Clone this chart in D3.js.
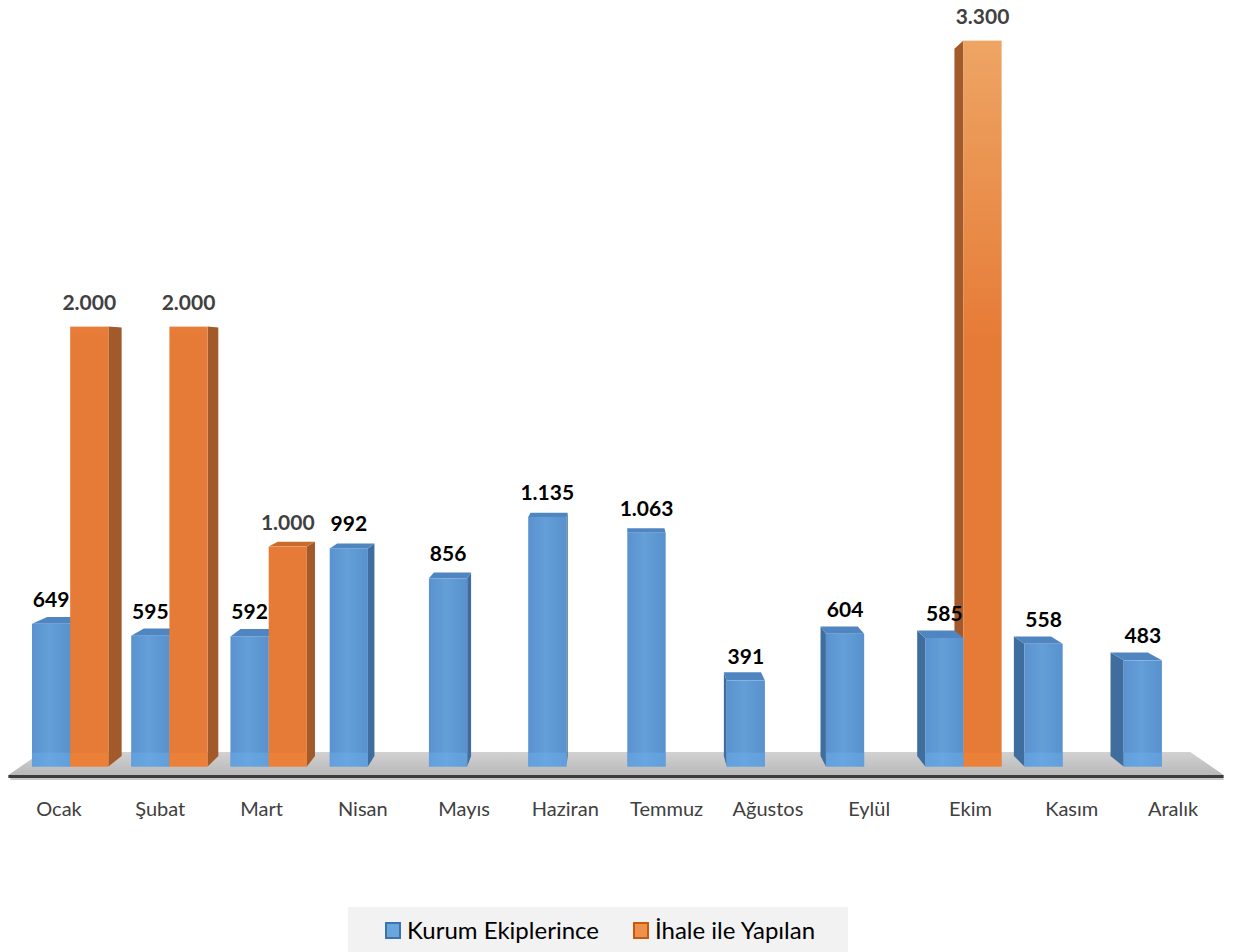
<!DOCTYPE html>
<html>
<head>
<meta charset="utf-8">
<script src="https://cdnjs.cloudflare.com/ajax/libs/d3/7.8.5/d3.min.js"></script>
<style>
  body { margin: 0; background: #fff; }
  #chart { width: 1236px; height: 952px; }
</style>
</head>
<body>
<div id="chart"></div>
<script>

// data
var months = ['Ocak', 'Şubat', 'Mart', 'Nisan', 'Mayıs', 'Haziran', 'Temmuz', 'Ağustos', 'Eylül', 'Ekim', 'Kasım', 'Aralık'];
var kurumValues = [649, 595, 592, 992, 856, 1135, 1063, 391, 604, 585, 558, 483];
var ihaleValues = [2000, 2000, 1000, null, null, null, null, null, null, 3300, null, null];
var seriesNames = ['Kurum Ekiplerince', 'İhale ile Yapılan'];
var seriesKeys = ['kurum', 'ihale'];


function renderBar3D(params) {
    // exposed variables
    var attrs = {
        svgWidth: 1236,
        svgHeight: 952,
        firstCenter: 59,
        lastCenter: 1173,
        floorY: 775,
        vanishX: 618,
        vanishY: 356,
        barDepth: 0.026,
        floorDepth: 0.055,
        barInset: 0.02,
        halfGroup: 39,
        maxValue: 3300,
        pxPerUnit: 0.22,
        fontFamily: 'Lato, "Open Sans", sans-serif'
    };

    Object.keys(attrs).forEach(function (key) {
        if (params && params[key]) {
            attrs[key] = params[key];
        }
    });

    var main = function (selection) {
        selection.each(function () {

            var trFormat = d3.formatLocale({ decimal: ',', thousands: '.', grouping: [3], currency: ['', ' ₺'] }).format(',');

            var svg = d3.select(this)
                .append('svg')
                .attr('width', attrs.svgWidth)
                .attr('height', attrs.svgHeight)
                .style('font-family', attrs.fontFamily);

            var defs = svg.append('defs');

            // front gradients
            var gBlue = defs.append('linearGradient').attr('id', 'blueFront')
                .attr('x1', 0).attr('x2', 1).attr('y1', 0).attr('y2', 0);
            gBlue.append('stop').attr('offset', '0%').attr('stop-color', '#5a92cf');
            gBlue.append('stop').attr('offset', '45%').attr('stop-color', '#649fd8');
            gBlue.append('stop').attr('offset', '100%').attr('stop-color', '#5891cd');

            var gOrange = defs.append('linearGradient').attr('id', 'orangeFront')
                .attr('gradientUnits', 'userSpaceOnUse')
                .attr('x1', 0).attr('x2', 0).attr('y1', 40).attr('y2', 340);
            gOrange.append('stop').attr('offset', '0%').attr('stop-color', '#eea564');
            gOrange.append('stop').attr('offset', '100%').attr('stop-color', '#e67b37');

            var gFloor = defs.append('linearGradient').attr('id', 'floorFill')
                .attr('x1', 0).attr('x2', 0).attr('y1', 0).attr('y2', 1);
            gFloor.append('stop').attr('offset', '0%').attr('stop-color', '#d2d2d2');
            gFloor.append('stop').attr('offset', '100%').attr('stop-color', '#b8b8b8');

            var colors = {
                kurum: { front: 'url(#blueFront)', side: '#3f6e9e', top: '#4f86c2', base: '#6cb0ea', label: '#000000' },
                ihale: { front: 'url(#orangeFront)', side: '#a35a2a', top: '#c96b2c', base: '#f28a3c', label: '#404040' }
            };

            // scales
            var x = d3.scalePoint()
                .domain(months)
                .range([attrs.firstCenter, attrs.lastCenter]);

            var xSeries = d3.scaleBand()
                .domain(seriesKeys)
                .range([-attrs.halfGroup, attrs.halfGroup]);

            var step = x.step();
            var vp = { x: attrs.vanishX, y: attrs.vanishY };

            // move a point towards the vanishing point
            function toward(p, s) {
                return [p[0] + (vp.x - p[0]) * s, p[1] + (vp.y - p[1]) * s];
            }

            var base = toward([0, attrs.floorY], attrs.barInset)[1];

            var y = d3.scaleLinear()
                .domain([0, attrs.maxValue])
                .range([base, base - attrs.maxValue * attrs.pxPerUnit]);

            // floor
            var fl = x.range()[0] - step / 2;
            var fr = x.range()[1] + step / 2;
            var floorPts = [[fl, attrs.floorY], [fr, attrs.floorY],
                toward([fr, attrs.floorY], attrs.floorDepth), toward([fl, attrs.floorY], attrs.floorDepth)];

            svg.append('polygon')
                .attr('points', floorPts.map(function (p) { return p.join(','); }).join(' '))
                .attr('fill', 'url(#floorFill)');

            svg.append('rect')
                .attr('x', fl).attr('y', attrs.floorY)
                .attr('width', fr - fl).attr('height', 3)
                .attr('fill', '#3c3c3c');
            svg.append('rect')
                .attr('x', fl + 2).attr('y', attrs.floorY + 3)
                .attr('width', fr - fl - 2).attr('height', 2)
                .attr('fill', '#c8c8c8');

            // bar list
            var bars = [];
            months.forEach(function (m, i) {
                [kurumValues[i], ihaleValues[i]].forEach(function (v, k) {
                    if (v == null) return;
                    var key = seriesKeys[k];
                    var wx0 = x(m) + xSeries(key);
                    var wx1 = wx0 + xSeries.bandwidth();
                    var sx0 = toward([wx0, 0], attrs.barInset)[0];
                    var sx1 = toward([wx1, 0], attrs.barInset)[0];
                    bars.push({ month: m, key: key, value: v, x0: sx0, x1: sx1, top: y(v), bottom: y(0) });
                });
            });

            // far bars first
            bars.sort(function (a, b) {
                return Math.abs((b.x0 + b.x1) / 2 - vp.x) - Math.abs((a.x0 + a.x1) / 2 - vp.x);
            });

            function poly(g, pts, fill) {
                g.append('polygon')
                    .attr('points', pts.map(function (p) { return p.join(','); }).join(' '))
                    .attr('fill', fill);
            }

            var barG = svg.append('g').attr('class', 'bars');

            bars.forEach(function (d) {
                var c = colors[d.key];
                var g = barG.append('g');
                var t = attrs.barDepth;

                // side face
                if (d.x1 < vp.x) {
                    var a = [d.x1, d.top], b = [d.x1, d.bottom];
                    poly(g, [a, toward(a, t), toward(b, t), b], c.side);
                } else if (d.x0 > vp.x) {
                    var a2 = [d.x0, d.top], b2 = [d.x0, d.bottom];
                    poly(g, [a2, toward(a2, t), toward(b2, t), b2], c.side);
                }

                // top face
                if (d.top > vp.y) {
                    var tl = [d.x0, d.top], tr = [d.x1, d.top];
                    poly(g, [tl, tr, toward(tr, t), toward(tl, t)], c.top);
                }

                // front face
                g.append('rect')
                    .attr('x', d.x0).attr('y', d.top)
                    .attr('width', d.x1 - d.x0).attr('height', d.bottom - d.top)
                    .attr('fill', c.front);

                // lighter foot of the bar
                g.append('rect')
                    .attr('x', d.x0).attr('y', d.bottom - 14)
                    .attr('width', d.x1 - d.x0).attr('height', 14)
                    .attr('fill', c.base).attr('opacity', 0.45);
            });

            // value labels
            svg.append('g').selectAll('text')
                .data(bars)
                .enter()
                .append('text')
                .attr('x', function (d) { return (d.x0 + d.x1) / 2; })
                .attr('y', function (d) { return d.top - 17; })
                .attr('text-anchor', 'middle')
                .attr('font-size', 21)
                .attr('font-weight', 'bold')
                .attr('fill', function (d) { return colors[d.key].label; })
                .text(function (d) { return trFormat(d.value); });

            // month labels
            svg.append('g').selectAll('text')
                .data(months)
                .enter()
                .append('text')
                .attr('x', function (d) { return x(d); })
                .attr('y', 816)
                .attr('text-anchor', 'middle')
                .attr('font-size', 20)
                .attr('fill', '#404040')
                .text(function (d) { return d; });

            // legend
            var legend = svg.append('g');
            legend.append('rect')
                .attr('x', 348).attr('y', 907)
                .attr('width', 500).attr('height', 45)
                .attr('fill', '#f2f2f2');

            var legendX = [385, 633];
            var legendFill = ['#6aa5dc', '#f0914a'];
            var legendStroke = ['#3b73b0', '#c55a11'];
            seriesNames.forEach(function (name, i) {
                legend.append('rect')
                    .attr('x', legendX[i] + 1).attr('y', 923)
                    .attr('width', 14).attr('height', 15)
                    .attr('fill', legendFill[i])
                    .attr('stroke', legendStroke[i])
                    .attr('stroke-width', 2);
                legend.append('text')
                    .attr('x', legendX[i] + 22).attr('y', 939)
                    .attr('font-size', 24)
                    .attr('fill', '#000')
                    .text(name);
            });

        });
    };

    return main;
}

d3.select('#chart').call(renderBar3D());

</script>
</body>
</html>
